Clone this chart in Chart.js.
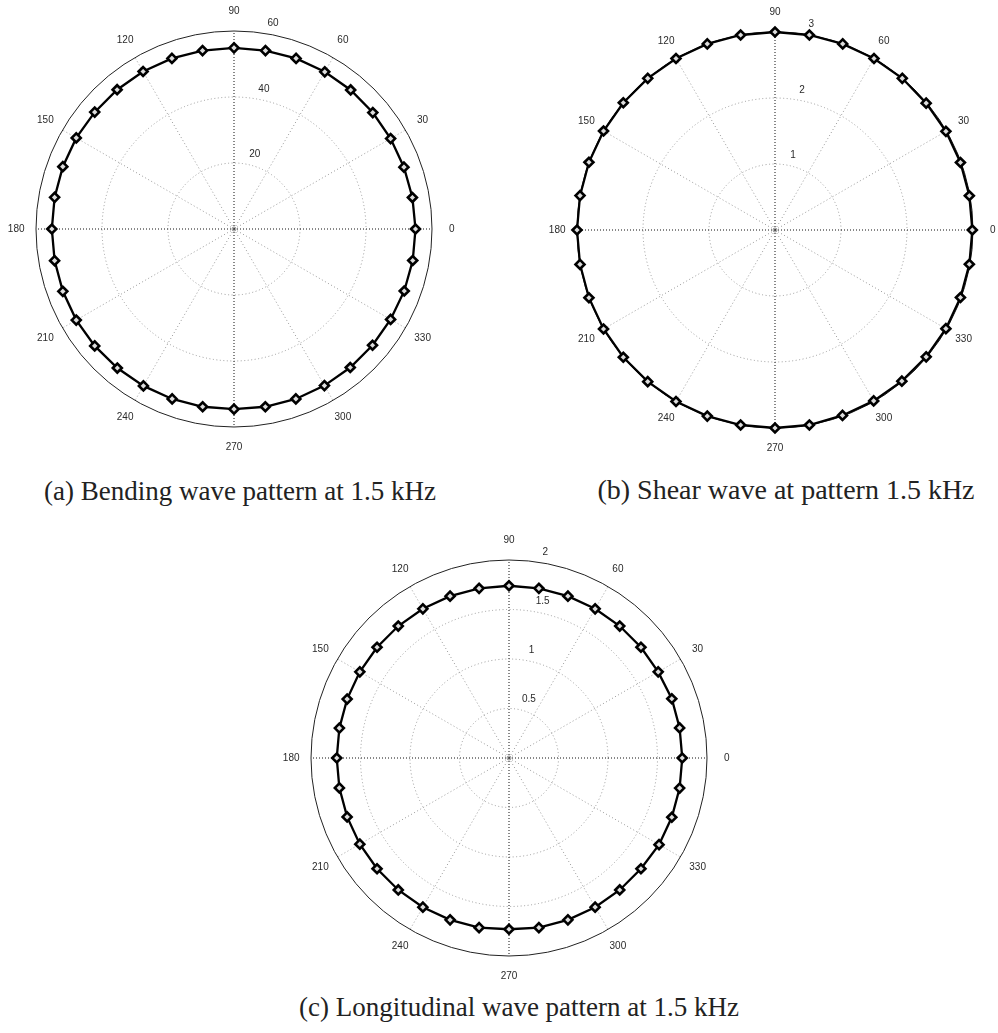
<!DOCTYPE html>
<html>
<head>
<meta charset="utf-8">
<script src="https://cdn.jsdelivr.net/npm/chart.js@4"></script>
<style>
  html, body { margin: 0; padding: 0; background: #fff; overflow: hidden; }
  body { width: 998px; height: 1033px; position: relative; }
  canvas { position: absolute; }
  .caption {
    position: absolute;
    font-family: "Liberation Serif", "Times New Roman", serif;
    font-size: 27px;
    line-height: 30px;
    color: #222;
    white-space: nowrap;
    transform: translateX(-50%);
  }
</style>
</head>
<body>
<canvas id="bending" width="457" height="457" style="left:6px; top:1px;"></canvas>
<canvas id="shear" width="457" height="457" style="left:547px; top:2px;"></canvas>
<canvas id="longitudinal" width="457" height="457" style="left:281px; top:530px;"></canvas>
<div class="caption" style="left:240px; top:476px;">(a) Bending wave pattern at 1.5 kHz</div>
<div class="caption" style="left:786px; top:475px; font-size:28px;">(b) Shear wave at pattern 1.5 kHz</div>
<div class="caption" style="left:519px; top:992px;">(c) Longitudinal wave pattern at 1.5 kHz</div>
<script>
  // angles of the measured directions, degrees (counter-clockwise from 0)
  var angles = [0, 10, 20, 30, 40, 50, 60, 70, 80, 90, 100, 110, 120, 130, 140, 150, 160, 170,
                180, 190, 200, 210, 220, 230, 240, 250, 260, 270, 280, 290, 300, 310, 320, 330, 340, 350];

  // labelled spokes
  var angleTicks = [0, 30, 60, 90, 120, 150, 180, 210, 240, 270, 300, 330];

  // amplitude per direction
  var bendingAmp = [55.0, 54.9, 54.8, 54.8, 54.9, 55.0, 55.0, 55.0, 54.9, 54.9, 54.9, 55.0,
                    55.1, 55.1, 55.1, 55.2, 55.2, 55.2, 55.2, 55.2, 55.2, 55.2, 55.1, 55.0,
                    54.9, 54.8, 54.7, 54.6, 54.7, 54.8, 54.8, 54.8, 54.8, 54.8, 54.9, 55.0];
  var shearAmp = [2.99, 2.99, 2.99, 2.99, 2.99, 3.0, 3.0, 3.0, 3.0, 3.0, 3.0, 3.0,
                  3.0, 3.0, 3.0, 3.0, 3.0, 3.0, 3.0, 3.0, 3.0, 3.0, 3.0, 3.0,
                  3.0, 3.0, 3.0, 3.0, 3.0, 2.99, 2.99, 2.99, 2.99, 2.99, 2.99, 2.99];
  var longAmp = [1.75, 1.75, 1.75, 1.74, 1.74, 1.74, 1.74, 1.74, 1.74, 1.74, 1.74, 1.74,
                 1.74, 1.74, 1.74, 1.74, 1.74, 1.74, 1.74, 1.74, 1.74, 1.74, 1.74, 1.74,
                 1.74, 1.74, 1.74, 1.73, 1.74, 1.74, 1.74, 1.74, 1.74, 1.75, 1.75, 1.75];

  // radial tick values for each plot
  var bendingTicks = [20, 40, 60];
  var shearTicks = [1, 2, 3];
  var longTicks = [0.5, 1, 1.5, 2];

  // radar runs clockwise, so walk the angles backwards to get a counter-clockwise plot
  function ccw(arr) {
    return arr.map(function (v, i) { return arr[(arr.length - i) % arr.length]; });
  }

  var labelFont = '10px "Liberation Sans", Arial, sans-serif';

  // angle labels, radial tick labels and the little centre circle
  var polarLabels = {
    id: 'polarLabels',
    afterDraw: function (chart) {
      var scale = chart.scales.r;
      var ctx = chart.ctx;
      var cx = scale.xCenter, cy = scale.yCenter;
      var outer = scale.getDistanceFromCenterForValue(scale.max);
      var labels = chart.data.labels;
      ctx.save();
      ctx.font = labelFont;
      ctx.fillStyle = '#2a2a2a';

      ctx.textAlign = 'center';
      ctx.textBaseline = 'middle';
      angleTicks.forEach(function (a) {
        var idx = labels.indexOf(a);
        var p = scale.getPointPosition(idx, outer * 1.1);
        ctx.fillText(String(a), p.x, p.y);
      });

      // ring values sit along the 82 degree direction
      var t = 82 * Math.PI / 180;
      ctx.textAlign = 'left';
      ctx.textBaseline = 'alphabetic';
      chart.options.radialTicks.forEach(function (v) {
        var d = scale.getDistanceFromCenterForValue(v);
        ctx.fillText(String(v), cx + d * Math.cos(t) + 6, cy - d * Math.sin(t) - 6.5);
      });

      ctx.strokeStyle = '#888';
      ctx.lineWidth = 1;
      ctx.beginPath();
      ctx.arc(cx, cy, 2, 0, Math.PI * 2);
      ctx.stroke();
      ctx.restore();
    }
  };

  function polarChart(id, values, max, step, ticks) {
    var ctx = document.getElementById(id).getContext('2d');
    return new Chart(ctx, {
      type: 'radar',
      data: {
        labels: ccw(angles),
        datasets: [{
          data: ccw(values),
          borderColor: '#000',
          borderWidth: 2.3,
          fill: false,
          pointStyle: 'rectRot',
          pointRadius: 4.5,
          pointBorderWidth: 2.6,
          pointBorderColor: '#000',
          pointBackgroundColor: '#ddd'
        }]
      },
      options: {
        responsive: false,
        animation: false,
        radialTicks: ticks,
        layout: { padding: 30 },
        plugins: {
          legend: { display: false },
          tooltip: { enabled: false }
        },
        elements: {
          line: { tension: 0 }
        },
        scales: {
          r: {
            min: 0,
            max: max,
            startAngle: 90,
            ticks: { display: false, stepSize: step },
            pointLabels: { display: false },
            grid: {
              circular: true,
              lineWidth: 1,
              color: function (c) { return c.tick && c.tick.value === max ? '#222' : '#999'; }
            },
            border: {
              dash: function (c) { return c.tick && c.tick.value === max ? [] : [1, 2.5]; }
            },
            angleLines: {
              lineWidth: function (c) { return c.label % 30 === 0 ? 1 : 0; },
              color: function (c) { return c.label % 90 === 0 ? '#111' : '#999'; },
              borderDash: function (c) { return c.label % 90 === 0 ? [1, 2] : [1, 2.5]; }
            }
          }
        }
      },
      plugins: [polarLabels]
    });
  }

  polarChart('bending', bendingAmp, 60, 20, bendingTicks);
  polarChart('shear', shearAmp, 3, 1, shearTicks);
  polarChart('longitudinal', longAmp, 2, 0.5, longTicks);
</script>
</body>
</html>
